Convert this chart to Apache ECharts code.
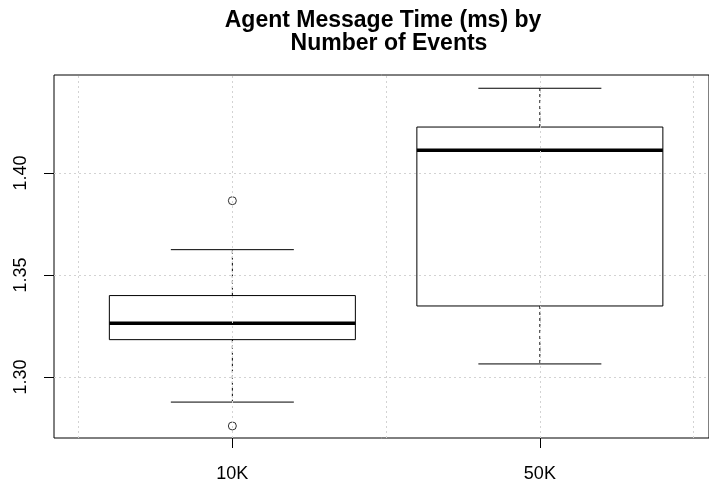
<!DOCTYPE html>
<html>
<head>
<meta charset="utf-8">
<script src="https://cdn.jsdelivr.net/npm/echarts@6/dist/echarts.min.js"></script>
<style>html,body{margin:0;padding:0;background:#fff;}#c{width:709px;height:489px;}</style>
</head>
<body>
<div id="c"></div>
<script>
// Data
var categories = ['10K', '50K'];
var whiskerLow = [1.2877, 1.3064];
var q1 = [1.3183, 1.3348];
var median = [1.3263, 1.4111];
var q3 = [1.3399, 1.4225];
var whiskerHigh = [1.3624, 1.4415];
var outliers = [[1, 1.3864], [1, 1.2760]];
var yTicks = [1.30, 1.35, 1.40];
var xGrid = [0.5, 1, 1.5, 2, 2.5];
var titleLines = ['Agent Message Time (ms) by', 'Number of Events'];

var boxData = categories.map(function (c, i) {
  return [i + 1, whiskerLow[i], q1[i], median[i], q3[i], whiskerHigh[i]];
});

var FONT = 'Liberation Sans, Arial, sans-serif';
var chart = echarts.init(document.getElementById('c'));

function renderBox(params, api) {
  var x = api.value(0);
  var lo = api.value(1), a = api.value(2), m = api.value(3), b = api.value(4), hi = api.value(5);
  var hw = 0.4, cw = 0.2;
  var pTL = api.coord([x - hw, b]);
  var pBR = api.coord([x + hw, a]);
  var pMl = api.coord([x - hw, m]);
  var pMr = api.coord([x + hw, m]);
  var pC = function (v) { return api.coord([x, v]); };
  var capL = function (v) { return api.coord([x - cw, v]); };
  var capR = function (v) { return api.coord([x + cw, v]); };
  var solid = { stroke: '#000', lineWidth: 1, fill: null };
  var dashed = { stroke: '#000', lineWidth: 1, lineDash: [3, 3], fill: null };
  return {
    type: 'group',
    children: [
      { type: 'line', shape: { x1: pC(b)[0], y1: pC(b)[1], x2: pC(hi)[0], y2: pC(hi)[1] }, style: dashed },
      { type: 'line', shape: { x1: pC(a)[0], y1: pC(a)[1], x2: pC(lo)[0], y2: pC(lo)[1] }, style: dashed },
      { type: 'line', shape: { x1: capL(hi)[0], y1: capL(hi)[1], x2: capR(hi)[0], y2: capR(hi)[1] }, style: solid },
      { type: 'line', shape: { x1: capL(lo)[0], y1: capL(lo)[1], x2: capR(lo)[0], y2: capR(lo)[1] }, style: solid },
      { type: 'rect', shape: { x: pTL[0], y: pTL[1], width: pBR[0] - pTL[0], height: pBR[1] - pTL[1] }, style: { stroke: '#000', lineWidth: 1, fill: 'rgba(0,0,0,0)' } },
      { type: 'line', shape: { x1: pMl[0], y1: pMl[1], x2: pMr[0], y2: pMr[1] }, style: { stroke: '#000', lineWidth: 3.5 } }
    ]
  };
}

var gridMarks = xGrid.map(function (v) { return { xAxis: v }; })
  .concat(yTicks.map(function (v) { return { yAxis: v }; }));

var titleStyle = { fontFamily: FONT, fontWeight: 'bold', fontSize: 23, lineHeight: 23, color: '#000' };

chart.setOption({
  animation: false,
  backgroundColor: '#fff',
  title: [
    { text: titleLines[0], left: 378, top: 4, textAlign: 'center', textStyle: titleStyle },
    { text: titleLines[1], left: 384, top: 27, textAlign: 'center', textStyle: titleStyle }
  ],
  grid: {
    left: 54, right: 0, top: 75, bottom: 51,
    show: true, borderColor: '#000', borderWidth: 1, backgroundColor: 'transparent'
  },
  xAxis: {
    type: 'value', min: 0.42, max: 2.55,
    axisLine: { show: false },
    splitLine: { show: false },
    axisTick: { show: true, customValues: [1, 2], length: 10, lineStyle: { color: '#000' } },
    axisLabel: {
      customValues: [1, 2], margin: 27, color: '#000', fontFamily: FONT, fontSize: 18,
      formatter: function (v) { return categories[Math.round(v) - 1] || ''; }
    }
  },
  yAxis: {
    type: 'value', min: 1.2701, max: 1.448,
    axisLine: { show: false },
    splitLine: { show: false },
    axisTick: { show: true, customValues: yTicks, length: 10, lineStyle: { color: '#000' } },
    axisLabel: {
      customValues: yTicks, rotate: 90, margin: 24, color: '#000', fontFamily: FONT, fontSize: 18,
      formatter: function (v) { return v.toFixed(2); }
    }
  },
  series: [
    {
      type: 'custom',
      renderItem: renderBox,
      data: boxData,
      encode: { x: 0, y: [1, 2, 3, 4, 5] },
      z: 3,
      markLine: {
        silent: true, symbol: 'none', label: { show: false },
        lineStyle: { color: '#d3d3d3', type: [2, 3], width: 1 },
        data: gridMarks
      }
    },
    {
      type: 'scatter',
      data: outliers,
      symbol: 'circle',
      symbolSize: 8,
      itemStyle: { color: 'rgba(0,0,0,0)', borderColor: '#000', borderWidth: 1 },
      z: 4
    }
  ]
});
</script>
</body>
</html>
